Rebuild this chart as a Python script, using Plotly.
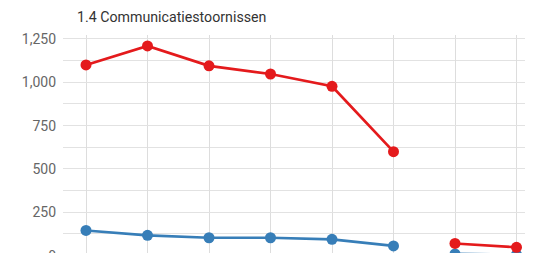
import plotly.graph_objects as go

categories = [0, 1, 2, 3, 4, 5, 6, 7]
red_values = [1100, 1210, 1095, 1048, 977, 600, 70, 48]
blue_values = [145, 117, 103, 103, 94, 56, 10, 5]
segments = [(0, 6), (6, 8)]  # lines are broken between index 5 and 6
y_tick_vals = [0, 250, 500, 750, 1000, 1250]
y_tick_text = ["0", "250", "500", "750", "1,000", "1,250"]
title_text = "1.4 Communicatiestoornissen"

RED = "#e41a1c"
BLUE = "#377eb8"
FONT = "Roboto"

fig = go.Figure()
for values, color in [(blue_values, BLUE), (red_values, RED)]:
    for a, b in segments:
        fig.add_trace(go.Scatter(
            x=categories[a:b], y=values[a:b], mode="lines+markers",
            line=dict(color=color, width=2.7),
            marker=dict(color=color, size=11),
            showlegend=False, hoverinfo="skip",
        ))

# page body adds an 8px offset; figure extends past the visible window
W, H = 540, 280
L, T, B = 55, 27, 22
fig.update_layout(
    width=W, height=H,
    margin=dict(l=L, r=0, t=T, b=B),
    paper_bgcolor="white", plot_bgcolor="white",
    font=dict(family=FONT, size=14, color="#666666"),
    title=dict(text=title_text, x=69 / W, xref="container", xanchor="left",
               y=1 - 9 / H, yref="container", yanchor="middle",
               font=dict(family=FONT, size=14.2, color="#333333")),
    xaxis=dict(range=[-0.374, -0.374 + (W - L) / 61.5], tickvals=categories, showticklabels=False,
               showgrid=True, gridcolor="#dddddd", gridwidth=1, zeroline=False,
               showline=False, ticks=""),
    yaxis=dict(range=[1273 - (H - T - B) / 0.1733, 1273], tickvals=y_tick_vals, ticktext=y_tick_text,
               showgrid=True, gridcolor="#e2e2e2", gridwidth=1, zeroline=False,
               showline=False, ticks="", ticklabelstandoff=6,
               minor=dict(dtick=125, tick0=0, showgrid=True, gridcolor="#e2e2e2", gridwidth=1),
               tickfont=dict(family=FONT, size=14, color="#666666")),
)

fig.write_html("out.html")
